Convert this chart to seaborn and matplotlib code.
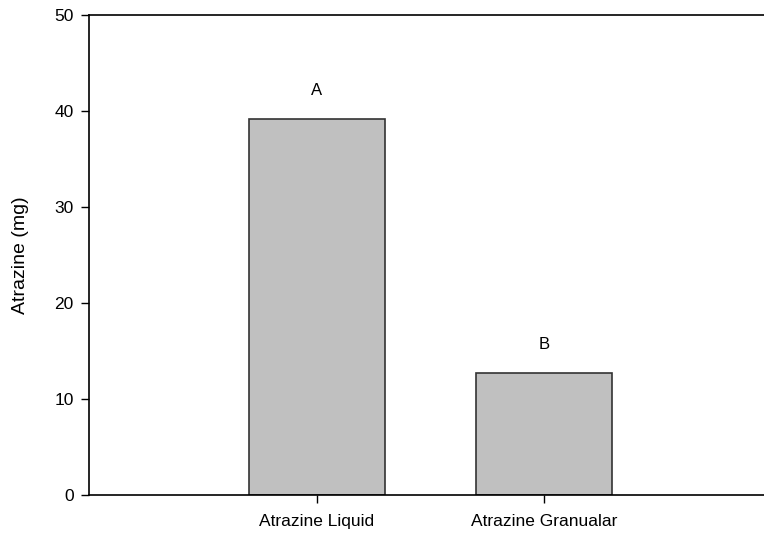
import matplotlib
matplotlib.use("Agg")
import matplotlib.pyplot as plt
import seaborn as sns
import pandas as pd

categories = ["Atrazine Liquid", "Atrazine Granualar"]
values = [39.2, 12.7]
letters = ["A", "B"]
yticks = [0, 10, 20, 30, 40, 50]

sns.set_style("white")
plt.rcParams['font.family'] = ['Liberation Sans', 'DejaVu Sans']
plt.rcParams['text.color'] = 'black'
plt.rcParams['axes.labelcolor'] = 'black'
plt.rcParams['xtick.color'] = 'black'
plt.rcParams['ytick.color'] = 'black'

df = pd.DataFrame({"cat": categories, "val": values})

fig = plt.figure(figsize=(7.64, 5.38), dpi=100)
ax = fig.add_axes([89/764, 43/538, 700/764, 480/538])
sns.barplot(data=df, x="cat", y="val", ax=ax, color="#c0c0c0", saturation=1,
            width=0.6, edgecolor="#333333", linewidth=1.2)

for i, (v, l) in enumerate(zip(values, letters)):
    ax.text(i, v + 2.2, l, ha="center", va="bottom", fontsize=12, color="black")

ax.set_xlim(-1.004, 2.08)
ax.set_ylim(0, 50)
ax.set_yticks(yticks)
ax.set_xlabel("")
ax.set_ylabel("Atrazine (mg)", fontsize=14, labelpad=18)
ax.tick_params(axis="both", labelsize=12.5, direction="out", length=6, width=1, color="black",
               labelcolor="black", left=True, bottom=True)
ax.tick_params(axis="y", pad=5)
ax.tick_params(axis="x", pad=8)
for s in ["left", "bottom", "top"]:
    ax.spines[s].set_color("black")
    ax.spines[s].set_linewidth(1.2)
ax.spines["right"].set_visible(False)

fig.savefig("out.png", dpi=100)
